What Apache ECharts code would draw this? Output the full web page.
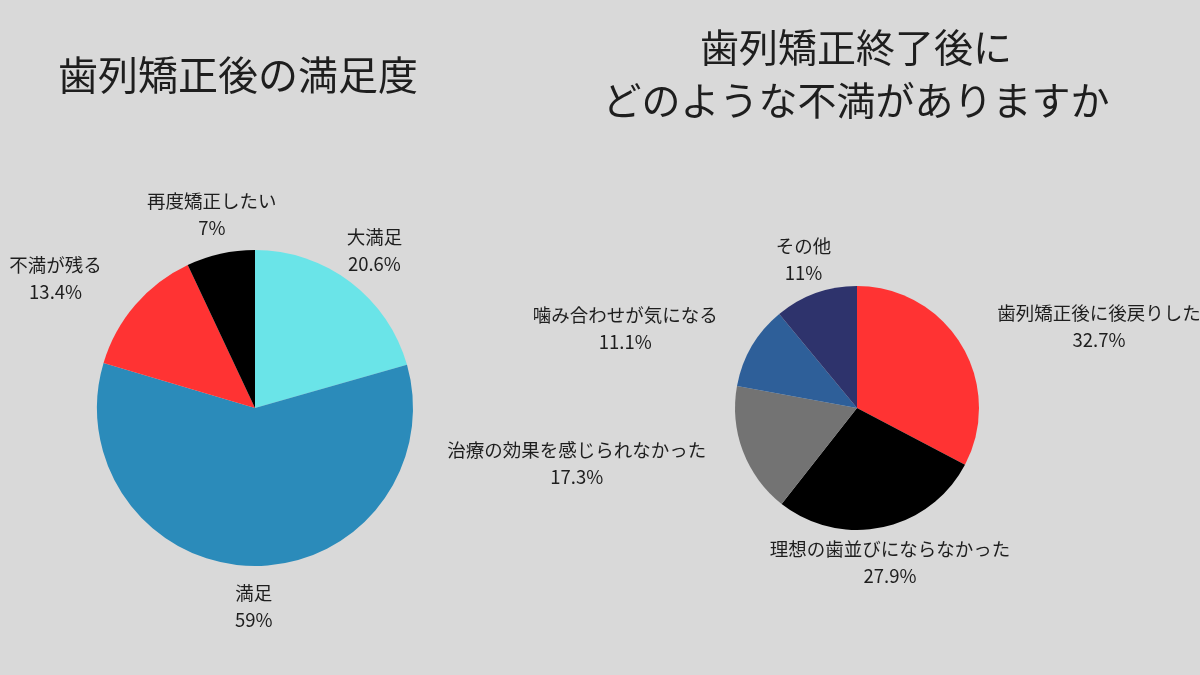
<!DOCTYPE html>
<html>
<head>
<meta charset="utf-8">
<script src="https://cdn.jsdelivr.net/npm/echarts@6/dist/echarts.min.js"></script>
<style>
html,body{margin:0;padding:0;background:#d9d9d9;}
#c{width:1200px;height:675px;}
</style>
</head>
<body>
<div id="c"></div>
<script>
const leftTitle = '歯列矯正後の満足度';
const rightTitle = '歯列矯正終了後に\nどのような不満がありますか';

const leftNames = ['大満足', '満足', '不満が残る', '再度矯正したい'];
const leftValues = [20.6, 59, 13.4, 7];
const leftColors = ['#6ae4e8', '#2b8bba', '#ff3333', '#000000'];
const leftAlign = ['center', 'center', 'right', 'center'];

const rightNames = ['歯列矯正後に後戻りした', '理想の歯並びにならなかった', '治療の効果を感じられなかった', '噛み合わせが気になる', 'その他'];
const rightValues = [32.7, 27.9, 17.3, 11.1, 11];
const rightColors = ['#ff3333', '#000000', '#737373', '#2e5f99', '#2e336c'];
const rightAlign = ['left', 'center', 'right', 'right', 'center'];

const FONT = '"Noto Sans CJK JP", "Noto Sans", sans-serif';
const TXT = '#1e1e1e';

function mkData(names, values, colors) {
  return names.map((n, i) => ({ name: n, value: values[i], itemStyle: { color: colors[i] } }));
}
function mkLabel() {
  return {
    show: true,
    position: 'outside',
    distanceToLabelLine: 0,
    formatter: '{n|{b}}\n{p|{c}%}',
    color: TXT,
    fontFamily: FONT,
    rich: {
      n: { fontSize: 18.5, lineHeight: 27, align: 'center', color: TXT, fontFamily: FONT },
      p: { fontSize: 18.5, lineHeight: 27, align: 'center', color: TXT, fontFamily: FONT }
    }
  };
}
function mkLayout(aligns) {
  return function (params) {
    const a = aligns[params.dataIndex];
    const dx = a === 'left' ? 5 : (a === 'right' ? -3 : 0);
    return { align: a, verticalAlign: 'middle', dx: dx };
  };
}

const chart = echarts.init(document.getElementById('c'), null, { renderer: 'canvas' });
chart.setOption({
  backgroundColor: '#d9d9d9',
  animation: false,
  title: [
    {
      text: leftTitle, left: 233, top: 43, textAlign: 'center',
      textStyle: { fontSize: 40, fontWeight: 'normal', color: TXT, fontFamily: FONT, lineHeight: 54 }
    },
    {
      text: rightTitle, left: 851, top: 16, textAlign: 'center',
      textStyle: { fontSize: 39, fontWeight: 'normal', color: TXT, fontFamily: FONT, lineHeight: 53 }
    }
  ],
  series: [
    {
      type: 'pie',
      center: [255, 408],
      radius: 158,
      startAngle: 90,
      clockwise: true,
      avoidLabelOverlap: false,
      data: mkData(leftNames, leftValues, leftColors),
      label: mkLabel(),
      labelLine: { show: false, length: 40, length2: 0 },
      labelLayout: mkLayout(leftAlign),
      emphasis: { disabled: true }
    },
    {
      type: 'pie',
      center: [857, 408],
      radius: 122,
      startAngle: 90,
      clockwise: true,
      avoidLabelOverlap: false,
      data: mkData(rightNames, rightValues, rightColors),
      label: mkLabel(),
      labelLine: { show: false, length: 36, length2: 0 },
      labelLayout: mkLayout(rightAlign),
      emphasis: { disabled: true }
    }
  ]
});
</script>
</body>
</html>
